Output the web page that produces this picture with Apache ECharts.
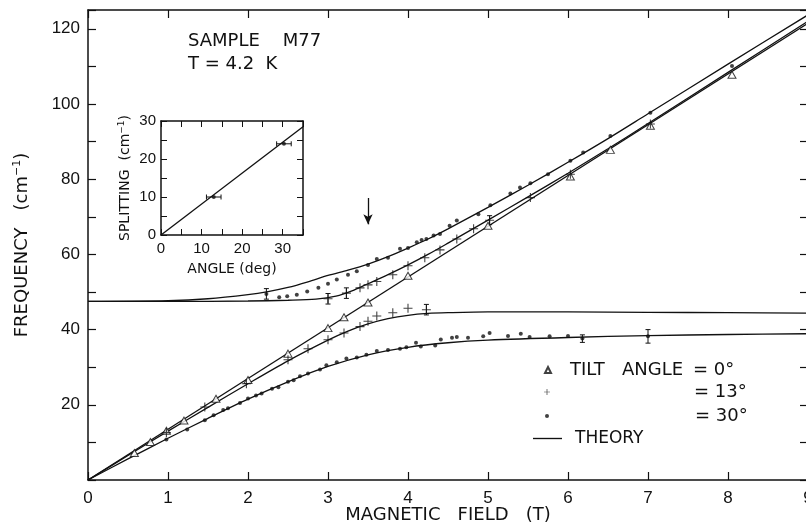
<!DOCTYPE html>
<html>
<head>
<meta charset="utf-8">
<script src="https://cdn.jsdelivr.net/npm/echarts@6/dist/echarts.min.js"></script>
<style>
  html, body { margin: 0; padding: 0; background: #fff; }
  #chart { width: 806px; height: 524px; }
</style>
</head>
<body>
<div id="chart"></div>
<script>
// theory curves (field T, frequency cm-1)
const theory0 = [[0, 0], [9, 121.5]]
const theory13Upper = [[0, 47.5], [1, 47.5], [2, 47.6], [2.5, 47.8], [2.85, 48.1], [3.1, 48.9], [3.3, 50.3], [3.5, 52.2], [3.75, 54.6], [4, 57.2], [4.25, 60], [4.5, 63], [5, 69.1], [5.5, 75.3], [6, 81.6], [6.5, 88.1], [7, 94.8], [8, 108.4], [9, 122]]
const theory13Lower = [[0, 0], [0.5, 6.5], [1, 13], [1.5, 19.3], [2, 25.6], [2.5, 31.7], [3, 37.2], [3.25, 39.6], [3.5, 41.5], [3.75, 42.9], [4, 43.8], [4.25, 44.3], [4.5, 44.5], [5, 44.7], [6, 44.7], [7, 44.6], [8, 44.5], [9, 44.4]]
const theory30Upper = [[0, 47.5], [1, 47.7], [1.5, 48.2], [2, 49.3], [2.25, 50.1], [2.5, 51.2], [2.75, 52.7], [3, 54.4], [3.25, 55.8], [3.5, 57.4], [3.75, 59.4], [4, 61.7], [4.25, 64.1], [4.5, 66.8], [5, 72.5], [5.5, 78.4], [6, 84.5], [6.5, 90.8], [7, 97.4], [8, 110.6], [9, 123.7]]
const theory30Lower = [[0, 0], [0.5, 5.6], [1, 11.1], [1.5, 16.4], [2, 21.5], [2.5, 26.1], [3, 30.2], [3.5, 33.3], [4, 35.3], [4.5, 36.5], [5, 37.2], [6, 37.9], [7, 38.4], [8, 38.7], [9, 38.9]]

// measured points
const tilt0 = [[0.58, 7.2], [0.78, 10.1], [0.98, 13.1], [1.2, 15.8], [1.6, 21.6], [2.0, 26.6], [2.5, 33.6], [3.0, 40.4], [3.2, 43.3], [3.5, 47.2], [4.0, 54.3], [5.0, 67.6], [6.03, 80.7], [6.53, 87.8], [7.03, 94.2], [8.05, 107.8]]
const tilt13 = [[0.98, 12.6], [1.46, 19.4], [1.98, 25.6], [2.5, 32], [2.75, 34.9], [3.0, 37.3], [3.2, 39.1], [3.4, 40.8], [3.5, 42.2], [3.61, 43.6], [3.81, 44.5], [4.0, 45.7], [4.23, 45.3],
  [3.0, 48.2], [3.23, 49.7], [3.4, 51.1], [3.5, 51.9], [3.61, 52.8], [3.81, 54.6], [4.0, 57.0], [4.21, 59.1], [4.4, 61.2], [4.61, 64.1], [4.82, 66.8], [5.02, 69.1], [5.53, 75.1], [6.03, 81.3], [7.03, 94.7]]
const tilt30Upper = [[2.23, 49.5], [2.39, 48.6], [2.49, 48.9], [2.61, 49.3], [2.74, 50.1], [2.88, 51.1], [3.0, 52.2], [3.11, 53.3], [3.25, 54.6], [3.36, 55.5], [3.5, 57.2], [3.61, 58.8], [3.75, 59.1], [3.9, 61.5], [4.0, 61.7], [4.11, 63.2], [4.17, 63.8], [4.23, 64.1], [4.32, 65.0], [4.4, 65.4], [4.52, 67.6], [4.61, 69.0], [4.88, 70.7], [5.03, 73.1], [5.28, 76.2], [5.4, 77.8], [5.53, 78.9], [5.75, 81.3], [6.03, 84.9], [6.19, 87.1], [6.53, 91.5], [7.03, 97.7], [8.05, 110.1]]
const tilt30Lower = [[0.98, 10.8], [1.24, 13.4], [1.46, 15.9], [1.57, 17.2], [1.69, 18.6], [1.75, 19.1], [1.9, 20.5], [2.0, 21.7], [2.1, 22.5], [2.17, 23.0], [2.3, 24.3], [2.38, 24.7], [2.5, 26.1], [2.57, 26.5], [2.65, 27.6], [2.75, 28.3], [2.9, 29.4], [2.98, 30.5], [3.11, 31.3], [3.23, 32.3], [3.36, 32.6], [3.48, 33.3], [3.61, 34.3], [3.75, 34.6], [3.9, 34.9], [3.98, 35.3], [4.1, 36.5], [4.16, 35.5], [4.34, 35.8], [4.41, 37.4], [4.55, 37.8], [4.61, 38.0], [4.75, 37.8], [4.94, 38.2], [5.02, 39.1], [5.25, 38.3], [5.41, 38.9], [5.52, 38.0], [5.77, 38.2], [6.0, 38.3], [6.18, 37.6], [7.0, 38.2]]
// [field, freq, half error]
const freqErrors = [[2.23, 49.5, 1.4], [3.0, 48.2, 1.4], [3.23, 49.7, 1.4], [4.23, 45.3, 1.4], [5.02, 69.1, 1.2], [6.18, 37.6, 1.0], [7.0, 38.2, 1.8]]
const arrowAt = [[3.5, 75], [3.5, 68]]

// inset: splitting vs angle
const splitLine = [[0, 0], [35, 28.5]]
const splitPoints = [[13, 10, 1.8], [30.3, 24, 1.8]]

const font = 'Liberation Sans'
const wordFont = 'DejaVu Sans'
const ink = '#111'
const plusPath = 'path://M0,4.4H10V5.6H0Z M4.4,0H5.6V10H4.4Z'

const axisBase = {
  type: 'value',
  axisLine: { show: true, onZero: false, lineStyle: { color: ink, width: 1.5 } },
  axisTick: { inside: true, length: 8, lineStyle: { color: ink, width: 1.2 } },
  axisLabel: { color: ink, fontSize: 17, fontFamily: font },
  splitLine: { show: false }
}
const noLabel = { show: false }
const insetTick = { inside: true, length: 6, lineStyle: { color: ink, width: 1 } }

function theoryLine (data, smooth) {
  return {
    type: 'line', name: 'THEORY', data, smooth: smooth ? 0.3 : false,
    showSymbol: false, symbol: 'none', z: 2,
    itemStyle: { color: ink },
    lineStyle: { color: ink, width: 1.3 }
  }
}

function errRender (vertical) {
  return function (params, api) {
    const x = api.value(0), y = api.value(1), e = api.value(2)
    const a = vertical ? api.coord([x, y + e]) : api.coord([x - e, y])
    const b = vertical ? api.coord([x, y - e]) : api.coord([x + e, y])
    const c = 2.5
    const st = { stroke: ink, lineWidth: 1 }
    const cap = p => vertical
      ? { type: 'line', shape: { x1: p[0] - c, y1: p[1], x2: p[0] + c, y2: p[1] }, style: st }
      : { type: 'line', shape: { x1: p[0], y1: p[1] - c, x2: p[0], y2: p[1] + c }, style: st }
    return {
      type: 'group',
      children: [
        { type: 'line', shape: { x1: a[0], y1: a[1], x2: b[0], y2: b[1] }, style: st },
        cap(a), cap(b)
      ]
    }
  }
}

const legendText = (rich) => ({ fontSize: 18, fontFamily: wordFont, color: ink, rich })

const chart = echarts.init(document.getElementById('chart'))
chart.setOption({
  backgroundColor: '#fff',
  animation: false,
  textStyle: { fontFamily: font, color: ink },
  grid: [
    { left: 88, top: 10, width: 720, height: 470, outerBoundsMode: 'none' },
    { left: 161, top: 121, width: 142, height: 114, outerBoundsMode: 'none' }
  ],
  xAxis: [
    Object.assign({}, axisBase, {
      gridIndex: 0, min: 0, max: 9, interval: 1, position: 'bottom',
      axisLabel: Object.assign({}, axisBase.axisLabel, { margin: 10 }),
      name: 'MAGNETIC   FIELD   (T)', nameLocation: 'middle', nameGap: 26, nameMoveOverlap: false,
      nameTextStyle: { fontSize: 18, color: ink, fontFamily: wordFont }
    }),
    Object.assign({}, axisBase, { gridIndex: 0, min: 0, max: 9, interval: 1, position: 'top', axisLabel: noLabel }),
    Object.assign({}, axisBase, {
      gridIndex: 1, min: 0, max: 35, interval: 5, position: 'bottom',
      axisTick: insetTick,
      axisLabel: { color: ink, fontSize: 15, fontFamily: font, margin: 6, formatter: v => v % 10 === 0 ? v : '' },
      name: 'ANGLE (deg)', nameLocation: 'middle', nameGap: 27,
      nameTextStyle: { fontSize: 14, color: ink, fontFamily: wordFont }
    }),
    Object.assign({}, axisBase, { gridIndex: 1, min: 0, max: 35, interval: 5, position: 'top', axisLabel: noLabel, axisTick: insetTick })
  ],
  yAxis: [
    Object.assign({}, axisBase, {
      gridIndex: 0, min: 0, max: 125, interval: 10, position: 'left',
      axisLabel: Object.assign({}, axisBase.axisLabel, { margin: 8, formatter: v => (v > 0 && v % 20 === 0) ? v : '' }),
      name: 'FREQUENCY   (cm{sup|−1})', nameLocation: 'middle', nameGap: 56, nameRotate: 90,
      nameTextStyle: {
        fontSize: 18, color: ink, fontFamily: wordFont,
        rich: { sup: { fontSize: 11, fontFamily: wordFont, color: ink, verticalAlign: 'top', padding: [0, 0, 9, 0] } }
      }
    }),
    Object.assign({}, axisBase, { gridIndex: 0, min: 0, max: 125, interval: 10, position: 'right', axisLabel: noLabel }),
    Object.assign({}, axisBase, {
      gridIndex: 1, min: 0, max: 30, interval: 5, position: 'left',
      axisTick: insetTick,
      axisLabel: { color: ink, fontSize: 15, fontFamily: font, margin: 5, formatter: v => v % 10 === 0 ? v : '' },
      name: 'SPLITTING  (cm{sup|−1})', nameLocation: 'middle', nameGap: 28, nameRotate: 90,
      nameTextStyle: {
        fontSize: 14, color: ink, fontFamily: wordFont,
        rich: { sup: { fontSize: 9, fontFamily: wordFont, color: ink, verticalAlign: 'top', padding: [0, 0, 7, 0] } }
      }
    }),
    Object.assign({}, axisBase, { gridIndex: 1, min: 0, max: 30, interval: 5, position: 'right', axisLabel: noLabel, axisTick: insetTick })
  ],
  legend: [
    { data: [{ name: '0°', icon: 'triangle' }], left: 539, top: 356, itemWidth: 6, itemHeight: 6,
      formatter: () => '{a|TILT   ANGLE}{b|= 0°}',
      textStyle: legendText({ a: { width: 123, padding: [0, 0, 0, 14], fontSize: 18, fontFamily: wordFont }, b: { fontSize: 18, fontFamily: wordFont } }) },
    { data: [{ name: '13°', icon: plusPath }], left: 539, top: 378, itemWidth: 6, itemHeight: 6,
      formatter: () => '{a|}{b|= 13°}',
      textStyle: legendText({ a: { width: 139 }, b: { fontSize: 18, fontFamily: wordFont } }) },
    { data: [{ name: '30°', icon: 'circle' }], left: 540, top: 402, itemWidth: 4, itemHeight: 4,
      formatter: () => '{a|}{b|= 30°}',
      textStyle: legendText({ a: { width: 141 }, b: { fontSize: 18, fontFamily: wordFont } }) },
    { data: [{ name: 'THEORY', icon: 'path://M0,0H30V1.4H0Z' }], left: 528, top: 425, itemWidth: 29, itemHeight: 2,
      formatter: () => '{a|THEORY}',
      textStyle: legendText({ a: { padding: [0, 0, 0, 8], fontSize: 17, fontFamily: wordFont } }) }
  ],
  graphic: [
    { type: 'text', left: 188, top: 32, style: { text: 'SAMPLE    M77', fontSize: 18, fontFamily: wordFont, fill: ink } },
    { type: 'text', left: 188, top: 55, style: { text: 'T = 4.2  K', fontSize: 18, fontFamily: wordFont, fill: ink } }
  ],
  series: [
    theoryLine(theory0, false),
    theoryLine(theory13Upper, true),
    theoryLine(theory13Lower, true),
    theoryLine(theory30Upper, true),
    theoryLine(theory30Lower, true),
    {
      type: 'line', data: arrowAt, symbol: 'none', lineStyle: { opacity: 0 }, silent: true,
      markLine: {
        silent: true, symbol: ['none', 'arrow'], symbolSize: [7, 10],
        label: { show: false }, lineStyle: { color: ink, width: 1.3, type: 'solid' },
        data: [[{ coord: arrowAt[0] }, { coord: arrowAt[1] }]]
      }
    },
    {
      type: 'custom', name: 'freqErr', data: freqErrors, renderItem: errRender(true),
      encode: { x: 0, y: 1 }, z: 3
    },
    {
      type: 'scatter', name: '0°', data: tilt0, symbol: 'triangle', symbolSize: [8, 7], z: 4,
      itemStyle: { color: '#fff', borderColor: ink, borderWidth: 1 }
    },
    {
      type: 'scatter', name: '13°', data: tilt13, symbol: plusPath, symbolSize: 9, z: 4,
      itemStyle: { color: ink }
    },
    {
      type: 'scatter', name: '30°', data: tilt30Upper, symbol: 'circle', symbolSize: 4, z: 4,
      itemStyle: { color: ink }
    },
    {
      type: 'scatter', name: '30°', data: tilt30Lower, symbol: 'circle', symbolSize: 4, z: 4,
      itemStyle: { color: ink }
    },
    {
      type: 'line', name: 'split', data: splitLine, xAxisIndex: 2, yAxisIndex: 2,
      symbol: 'none', lineStyle: { color: ink, width: 1.3 }
    },
    {
      type: 'custom', name: 'splitErr', data: splitPoints, xAxisIndex: 2, yAxisIndex: 2,
      renderItem: errRender(false), encode: { x: 0, y: 1 }, z: 3
    },
    {
      type: 'scatter', name: 'splitPts', data: splitPoints, xAxisIndex: 2, yAxisIndex: 2,
      symbol: 'circle', symbolSize: 4, z: 4, itemStyle: { color: ink }
    }
  ]
})
</script>
</body>
</html>
